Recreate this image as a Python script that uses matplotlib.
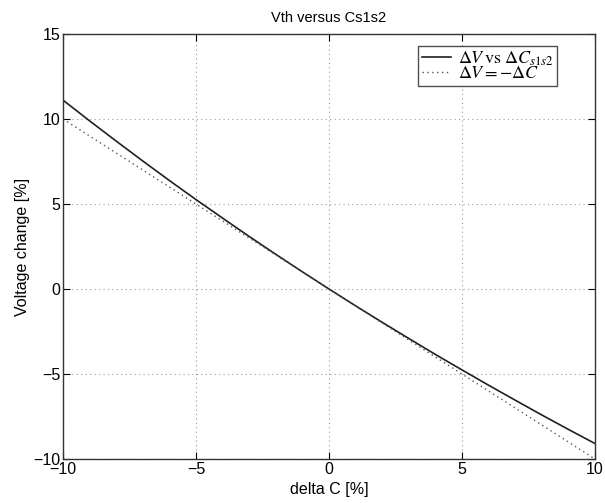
import numpy as np
import matplotlib.pyplot as plt

delta_c = [-10, -9, -8, -7, -6, -5, -4, -3, -2, -1, 0,
           1, 2, 3, 4, 5, 6, 7, 8, 9, 10]
delta_v = [11.11, 9.89, 8.70, 7.53, 6.38, 5.26, 4.17, 3.09, 2.04, 1.01, 0.0,
           -0.99, -1.96, -2.91, -3.85, -4.76, -5.66, -6.54, -7.41, -8.26, -9.09]
ref_c = [-10, 10]
ref_v = [10, -10]

xticks = [-10, -5, 0, 5, 10]
yticks = [-10, -5, 0, 5, 10, 15]

plt.rcParams['font.family'] = ['Liberation Sans', 'DejaVu Sans']
plt.rcParams['mathtext.fontset'] = 'stix'

fig = plt.figure(figsize=(6.05, 5.03), dpi=100)
ax = fig.add_axes([63/605, 44/503, 532/605, 425/503])

ax.plot(delta_c, delta_v, color='#202020', lw=1.2,
        label=r'$\Delta V\,\mathrm{vs}\ \Delta C_{s1s2}$')
ax.plot(ref_c, ref_v, color='#555555', lw=1.0, ls=(0, (1, 2.5)),
        label=r'$\Delta V=-\Delta C$')

ax.set_xlim(-10, 10)
ax.set_ylim(-10, 15)
ax.set_xticks(xticks)
ax.set_yticks(yticks)
ax.grid(True, color='#999999', ls=(0, (1, 3)), lw=0.8)
ax.tick_params(direction='in', top=True, right=True, labelsize=11.5, length=5,
               pad=2)
for s in ax.spines.values():
    s.set_linewidth(1.0)
    s.set_color('#333333')

ax.set_title('Vth versus Cs1s2', fontsize=10.5, pad=9)
ax.set_xlabel('delta C [%]', fontsize=11.5, labelpad=4)
ax.set_ylabel('Voltage change [%]', fontsize=11.5, labelpad=2)

# legend box: right edge ~557 px, top ~46 px
leg = ax.legend(loc='upper right', bbox_to_anchor=((557-63)/532, (459-46)/425),
                fontsize=13, frameon=True, fancybox=False, handlelength=1.6,
                handletextpad=0.4, borderpad=0.2, labelspacing=-0.15,
                borderaxespad=0)
leg.get_frame().set_edgecolor('#222222')
leg.get_frame().set_linewidth(1.0)

fig.savefig('out.png', dpi=100)
